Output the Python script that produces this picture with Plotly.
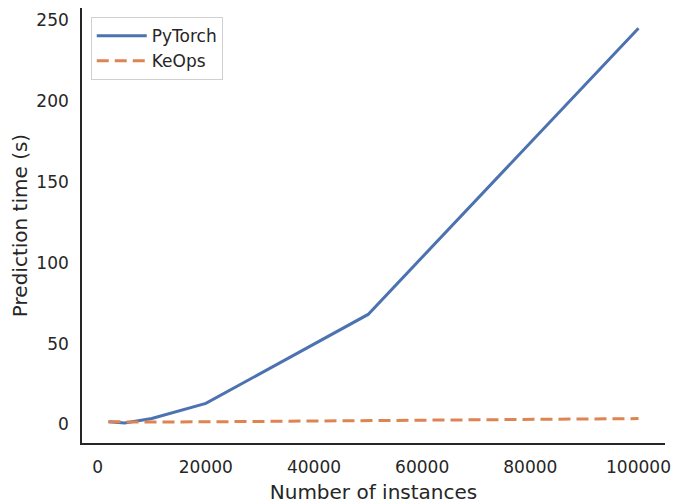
import plotly.graph_objects as go

# number of instances vs prediction time
instances = [2000, 5000, 10000, 20000, 50000, 100000]
pytorch_time = [1.7, 0.9, 3.7, 13, 68, 245]
keops_time = [1.6, 1.5, 1.5, 1.6, 2.2, 3.6]

x_ticks = [0, 20000, 40000, 60000, 80000, 100000]
y_ticks = [0, 50, 100, 150, 200, 250]

font_color = '#262626'

fig = go.Figure()
fig.add_trace(go.Scatter(x=instances, y=pytorch_time, mode='lines', name='PyTorch',
                         line={'color': '#4C72B0', 'width': 3}))
fig.add_trace(go.Scatter(x=instances, y=keops_time, mode='lines', name='KeOps',
                         line={'color': '#DD8452', 'width': 3, 'dash': '12px,6px'}))

# page body has an 8px margin, so the figure is a bit smaller than the window
fig.update_layout(
    width=672, height=496,
    margin={'l': 74, 'r': 15, 't': 0, 'b': 61},
    plot_bgcolor='white', paper_bgcolor='white',
    font={'family': 'DejaVu Sans', 'size': 17, 'color': font_color},
    legend={'x': 0.015, 'y': 0.979, 'xanchor': 'left', 'yanchor': 'top',
            'bordercolor': '#d0d0d0', 'borderwidth': 1, 'bgcolor': 'rgba(255,255,255,0.8)',
            'font': {'size': 17}, 'itemwidth': 50, 'tracegroupgap': 2},
)

fig.update_xaxes(
    range=[-2900, 104900], tickvals=x_ticks, ticktext=[str(v) for v in x_ticks],
    showgrid=False, zeroline=False, showline=True, linecolor=font_color, linewidth=1.6,
    ticks='', automargin=False, ticklabelstandoff=8,
    title={'text': 'Number of instances', 'standoff': 12},
)
fig.update_yaxes(
    range=[-11.5, 257.5], tickvals=y_ticks,
    showgrid=False, zeroline=False, showline=True, linecolor=font_color, linewidth=1.6,
    ticks='', automargin=False, ticklabelstandoff=8,
    title={'text': 'Prediction time (s)', 'standoff': 8},
)

fig.write_html("out.html")
